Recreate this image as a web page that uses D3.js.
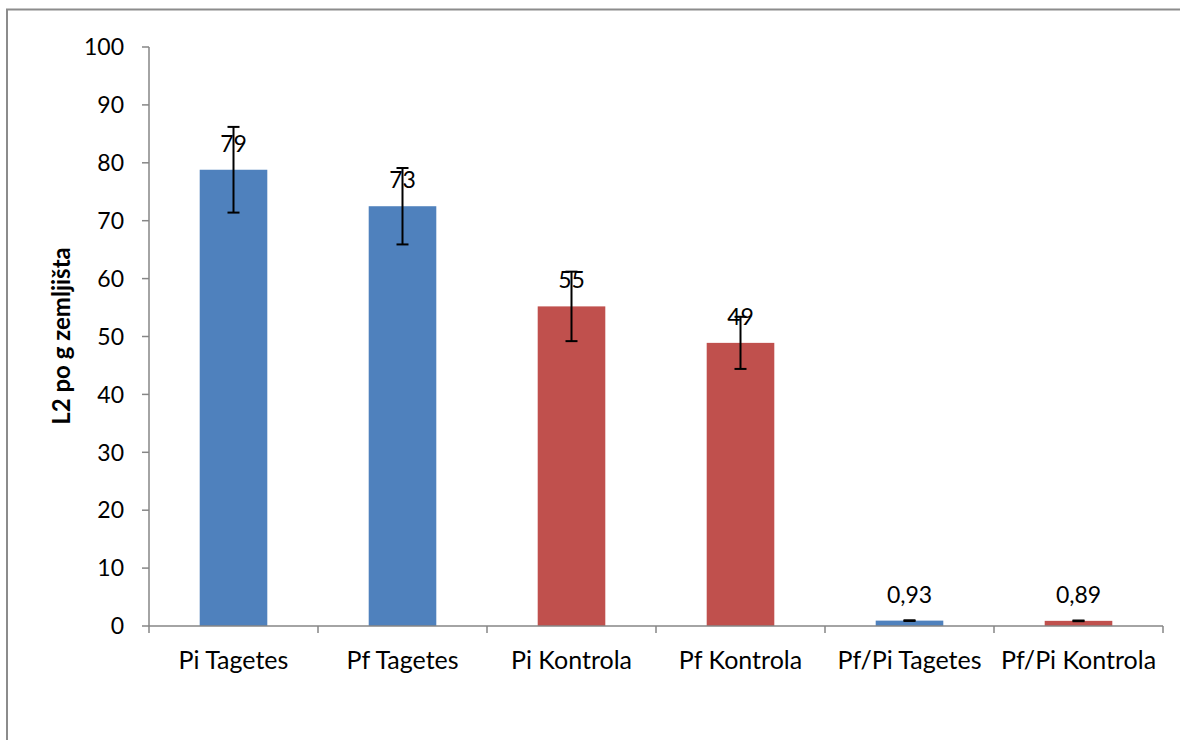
<!DOCTYPE html>
<html><head><meta charset="utf-8">
<script src="https://cdn.jsdelivr.net/npm/d3@7"></script>
<style>body{margin:0;background:#fff}svg{display:block}text{font-family:Lato,"Open Sans",sans-serif}</style>
</head><body>
<svg id="c" width="1180" height="740"></svg>
<script>
const categories = ["Pi Tagetes","Pf Tagetes","Pi Kontrola","Pf Kontrola","Pf/Pi Tagetes","Pf/Pi Kontrola"];
const values = [78.8, 72.5, 55.2, 48.9, 0.93, 0.89];
const errors = [7.4, 6.6, 6.0, 4.5, 0.06, 0.06];
const labels = ["79","73","55","49","0,93","0,89"];
const groups = ["T","T","K","K","T","K"];
const yTicks = [0,10,20,30,40,50,60,70,80,90,100];
const yTitle = "L2 po g zemljišta";

const colors = {T:"#4F81BD", K:"#C0504D"};
const svg = d3.select("#c");
const axisColor = "#868686";

// outer frame
svg.append("rect").attr("x",7).attr("y",9.5).attr("width",1300).attr("height",900)
  .attr("fill","none").attr("stroke","#8c8c8c").attr("stroke-width",2);

const x0 = 149, x1 = 1163, yTop = 47, yBot = 626;
const x = d3.scaleBand().domain(categories).range([x0,x1]).paddingInner(0.6).paddingOuter(0.3);
const y = d3.scaleLinear().domain([0,100]).range([yBot,yTop]);

// y axis
svg.append("line").attr("x1",x0).attr("x2",x0).attr("y1",yTop).attr("y2",yBot)
  .attr("stroke",axisColor).attr("stroke-width",1.5);
svg.selectAll(".yt").data(yTicks).enter().append("line")
  .attr("x1",x0-7).attr("x2",x0).attr("y1",d=>y(d)).attr("y2",d=>y(d))
  .attr("stroke",axisColor).attr("stroke-width",1.5);
svg.selectAll(".yl").data(yTicks).enter().append("text")
  .attr("x",124).attr("y",d=>y(d)).attr("dy","0.36em").attr("text-anchor","end")
  .attr("font-size",23).attr("fill","#000").text(d=>d);

// bars
svg.selectAll(".bar").data(categories).enter().append("rect")
  .attr("x",d=>x(d)).attr("width",x.bandwidth())
  .attr("y",(d,i)=>y(values[i])).attr("height",(d,i)=>yBot-y(values[i]))
  .attr("fill",(d,i)=>colors[groups[i]]);

// x axis
svg.append("line").attr("x1",x0).attr("x2",x1).attr("y1",yBot).attr("y2",yBot)
  .attr("stroke",axisColor).attr("stroke-width",1.5);
const step = x.step();
const bounds = d3.range(categories.length+1).map(i=>x0+i*step);
svg.selectAll(".xt").data(bounds).enter().append("line")
  .attr("x1",d=>d).attr("x2",d=>d).attr("y1",yBot).attr("y2",yBot+7)
  .attr("stroke",axisColor).attr("stroke-width",1.5);
svg.selectAll(".xl").data(categories).enter().append("text")
  .attr("x",d=>x(d)+x.bandwidth()/2).attr("y",669).attr("text-anchor","middle")
  .attr("font-size",25).attr("fill","#000").text(d=>d);

// error bars
const eb = svg.selectAll(".eb").data(categories).enter().append("g");
eb.append("line").attr("x1",d=>x(d)+x.bandwidth()/2).attr("x2",d=>x(d)+x.bandwidth()/2)
  .attr("y1",(d,i)=>y(values[i]+errors[i])).attr("y2",(d,i)=>y(values[i]-errors[i]))
  .attr("stroke","#000").attr("stroke-width",2);
[1,-1].forEach(s=>{
  eb.append("line").attr("x1",d=>x(d)+x.bandwidth()/2-6).attr("x2",d=>x(d)+x.bandwidth()/2+6)
    .attr("y1",(d,i)=>y(values[i]+s*errors[i])).attr("y2",(d,i)=>y(values[i]+s*errors[i]))
    .attr("stroke","#000").attr("stroke-width",2);
});

// data labels
svg.selectAll(".dl").data(categories).enter().append("text")
  .attr("x",d=>x(d)+x.bandwidth()/2).attr("y",(d,i)=>y(values[i])-18)
  .attr("text-anchor","middle").attr("font-size",23).attr("fill","#000")
  .text((d,i)=>labels[i]);

// y title
svg.append("text").attr("transform","translate(70,336) rotate(-90)")
  .attr("text-anchor","middle").attr("font-size",24).attr("font-weight","bold")
  .attr("fill","#000").text(yTitle);
</script>
</body></html>
